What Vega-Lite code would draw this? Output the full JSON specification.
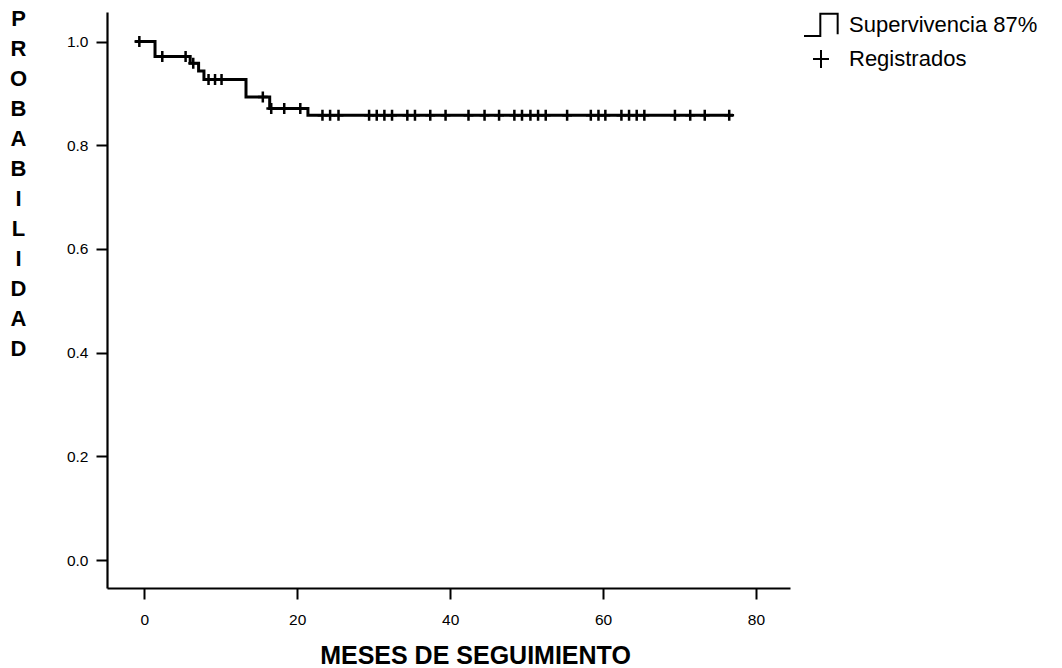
{
  "$schema": "https://vega.github.io/schema/vega-lite/v6.json",
  "width": 683,
  "height": 576,
  "autosize": {"type": "none"},
  "padding": {"left": 107, "top": 12, "right": 272, "bottom": 80},
  "background": "white",
  "config": {
    "view": {"stroke": null},
    "axis": {
      "grid": false,
      "domainColor": "black",
      "tickColor": "black",
      "labelColor": "black",
      "titleColor": "black",
      "labelFont": "Liberation Sans",
      "titleFont": "Liberation Sans",
      "domainWidth": 2.2,
      "tickWidth": 2,
      "tickSize": 11,
      "labelFontSize": 15
    }
  },
  "datasets": {
    "curve": [
      {"meses": -1.2, "s": 1.0},
      {"meses": 1.4, "s": 0.971},
      {"meses": 6.0, "s": 0.958},
      {"meses": 7.1, "s": 0.943},
      {"meses": 7.8, "s": 0.927},
      {"meses": 13.3, "s": 0.893},
      {"meses": 16.4, "s": 0.871},
      {"meses": 21.4, "s": 0.858},
      {"meses": 77.0, "s": 0.858}
    ],
    "censored": [
      {"meses": -0.65, "s": 1.0, "serie": "Registrados"},
      {"meses": 2.35, "s": 0.971, "serie": "Registrados"},
      {"meses": 5.4, "s": 0.971, "serie": "Registrados"},
      {"meses": 6.4, "s": 0.958, "serie": "Registrados"},
      {"meses": 8.4, "s": 0.927, "serie": "Registrados"},
      {"meses": 9.25, "s": 0.927, "serie": "Registrados"},
      {"meses": 10.1, "s": 0.927, "serie": "Registrados"},
      {"meses": 15.5, "s": 0.893, "serie": "Registrados"},
      {"meses": 16.6, "s": 0.871, "serie": "Registrados"},
      {"meses": 18.3, "s": 0.871, "serie": "Registrados"},
      {"meses": 20.4, "s": 0.871, "serie": "Registrados"},
      {"meses": 23.3, "s": 0.858, "serie": "Registrados"},
      {"meses": 24.3, "s": 0.858, "serie": "Registrados"},
      {"meses": 25.4, "s": 0.858, "serie": "Registrados"},
      {"meses": 29.4, "s": 0.858, "serie": "Registrados"},
      {"meses": 30.4, "s": 0.858, "serie": "Registrados"},
      {"meses": 31.4, "s": 0.858, "serie": "Registrados"},
      {"meses": 32.4, "s": 0.858, "serie": "Registrados"},
      {"meses": 34.4, "s": 0.858, "serie": "Registrados"},
      {"meses": 35.4, "s": 0.858, "serie": "Registrados"},
      {"meses": 37.4, "s": 0.858, "serie": "Registrados"},
      {"meses": 39.4, "s": 0.858, "serie": "Registrados"},
      {"meses": 42.4, "s": 0.858, "serie": "Registrados"},
      {"meses": 44.5, "s": 0.858, "serie": "Registrados"},
      {"meses": 46.4, "s": 0.858, "serie": "Registrados"},
      {"meses": 48.4, "s": 0.858, "serie": "Registrados"},
      {"meses": 49.4, "s": 0.858, "serie": "Registrados"},
      {"meses": 50.5, "s": 0.858, "serie": "Registrados"},
      {"meses": 51.5, "s": 0.858, "serie": "Registrados"},
      {"meses": 52.5, "s": 0.858, "serie": "Registrados"},
      {"meses": 55.3, "s": 0.858, "serie": "Registrados"},
      {"meses": 58.4, "s": 0.858, "serie": "Registrados"},
      {"meses": 59.4, "s": 0.858, "serie": "Registrados"},
      {"meses": 60.3, "s": 0.858, "serie": "Registrados"},
      {"meses": 62.4, "s": 0.858, "serie": "Registrados"},
      {"meses": 63.4, "s": 0.858, "serie": "Registrados"},
      {"meses": 64.4, "s": 0.858, "serie": "Registrados"},
      {"meses": 65.4, "s": 0.858, "serie": "Registrados"},
      {"meses": 69.4, "s": 0.858, "serie": "Registrados"},
      {"meses": 71.4, "s": 0.858, "serie": "Registrados"},
      {"meses": 73.3, "s": 0.858, "serie": "Registrados"},
      {"meses": 76.5, "s": 0.858, "serie": "Registrados"}
    ]
  },
  "layer": [
    {
      "data": {"name": "curve"},
      "mark": {"type": "line", "interpolate": "step-after", "color": "black", "strokeWidth": 3},
      "encoding": {
        "x": {
          "field": "meses",
          "type": "quantitative",
          "scale": {"domain": [-4.88, 84.45], "nice": false, "zero": false},
          "axis": {
            "values": [0, 20, 40, 60, 80],
            "format": "d",
            "labelFontSize": 15.5,
            "labelPadding": 13,
            "labelFlush": false,
            "labelOverlap": false,
            "title": "MESES DE SEGUIMIENTO",
            "titleFontSize": 25,
            "titleFontWeight": "bold",
            "titleX": 368,
            "titleY": 75,
            "titleAlign": "center",
            "titleBaseline": "alphabetic"
          }
        },
        "y": {
          "field": "s",
          "type": "quantitative",
          "scale": {"domain": [-0.054, 1.057], "nice": false, "zero": false},
          "axis": {
            "values": [0, 0.2, 0.4, 0.6, 0.8, 1.0],
            "format": ".1f",
            "labelFontSize": 15.5,
            "labelPadding": 8,
            "labelFlush": false,
            "labelOverlap": false,
            "title": ["P", "R", "O", "B", "A", "B", "I", "L", "I", "D", "A", "D"],
            "titleAngle": 0,
            "titleFontSize": 22,
            "titleFontWeight": "bold",
            "titleLineHeight": 30,
            "titleX": -89,
            "titleY": -4,
            "titleAlign": "center",
            "titleBaseline": "top"
          }
        }
      }
    },
    {
      "data": {"name": "censored"},
      "mark": {"type": "point", "filled": false, "color": "black", "strokeWidth": 2.5, "size": 430, "opacity": 1},
      "encoding": {
        "x": {"field": "meses", "type": "quantitative"},
        "y": {"field": "s", "type": "quantitative"},
        "shape": {
          "field": "serie",
          "type": "nominal",
          "scale": {
            "domain": ["Supervivencia 87%", "Registrados"],
            "range": ["M-1,0.65H-0.04V-0.66H0.98V0.55", "M-0.47,0H0.47M0,-0.53V0.53"]
          },
          "legend": {
            "title": null,
            "orient": "none",
            "legendX": 696,
            "legendY": -5,
            "symbolSize": 1156,
            "symbolStrokeWidth": 2,
            "symbolStrokeColor": "black",
            "symbolFillColor": "transparent",
            "labelFont": "Liberation Sans",
            "labelFontSize": 22,
            "labelColor": "black",
            "labelOffset": 10,
            "labelLimit": 400,
            "rowPadding": 0,
            "padding": 0
          }
        }
      }
    }
  ]
}
